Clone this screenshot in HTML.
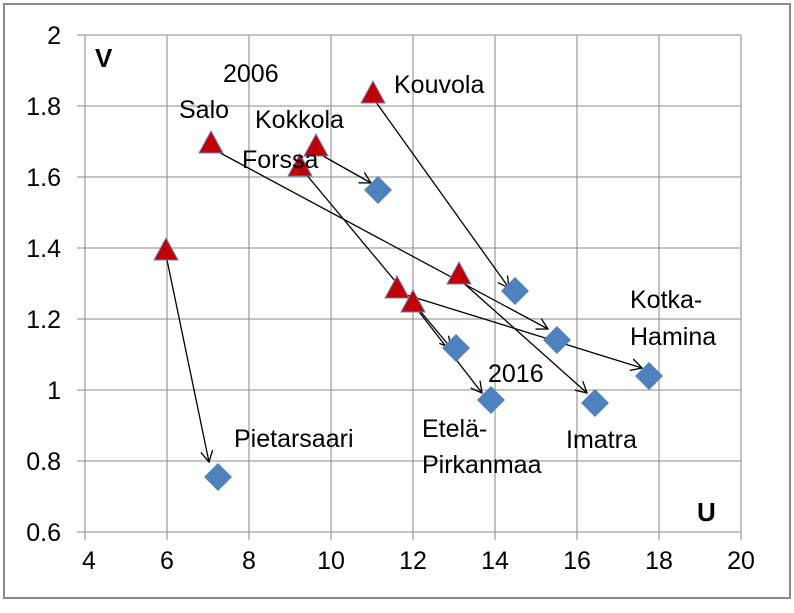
<!DOCTYPE html>
<html><head><meta charset="utf-8"><style>
body{margin:0;background:#fff;}
svg text{font-family:"Liberation Sans",sans-serif;fill:#000;}
</style></head><body>
<svg width="794" height="608" viewBox="0 0 794 608" xmlns="http://www.w3.org/2000/svg">
<defs><marker id="a" markerWidth="14" markerHeight="14" refX="12" refY="7" orient="auto" markerUnits="userSpaceOnUse"><path d="M1,1 L12,7 L1,13" fill="none" stroke="#000" stroke-width="1.3"/></marker>
<g id="t"><path d="M0,-13 L12,9 L-12,9 Z" fill="#c00000" stroke="#6a7fc0" stroke-width="1"/></g>
<g id="d"><path d="M0,-14 L14,0 L0,14 L-14,0 Z" fill="#4f81bd"/></g></defs>
<rect x="4" y="4" width="786" height="594" fill="#fff" stroke="#8a8a8a" stroke-width="2"/>
<g stroke="#a0a0a0" stroke-width="1.3">
<line x1="77" y1="35" x2="741" y2="35"/><line x1="77" y1="106" x2="741" y2="106"/><line x1="77" y1="177" x2="741" y2="177"/><line x1="77" y1="248" x2="741" y2="248"/><line x1="77" y1="319" x2="741" y2="319"/><line x1="77" y1="390" x2="741" y2="390"/><line x1="77" y1="461" x2="741" y2="461"/><line x1="77" y1="532" x2="741" y2="532"/>
<line x1="85" y1="35" x2="85" y2="540"/><line x1="167" y1="35" x2="167" y2="540"/><line x1="249" y1="35" x2="249" y2="540"/><line x1="331" y1="35" x2="331" y2="540"/><line x1="413" y1="35" x2="413" y2="540"/><line x1="495" y1="35" x2="495" y2="540"/><line x1="577" y1="35" x2="577" y2="540"/><line x1="659" y1="35" x2="659" y2="540"/><line x1="741" y1="35" x2="741" y2="540"/>
</g>
<g font-size="25" text-anchor="end">
<text x="61" y="44">2</text><text x="61" y="115">1.8</text><text x="61" y="186">1.6</text><text x="61" y="257">1.4</text><text x="61" y="328">1.2</text><text x="61" y="399">1</text><text x="61" y="470">0.8</text><text x="61" y="541">0.6</text></g>
<g font-size="25" text-anchor="middle">
<text x="89" y="569">4</text><text x="167" y="569">6</text><text x="249" y="569">8</text><text x="331" y="569">10</text><text x="413" y="569">12</text><text x="495" y="569">14</text><text x="577" y="569">16</text><text x="659" y="569">18</text><text x="741" y="569">20</text></g>
<text x="95" y="67" font-size="26" font-weight="bold">V</text>
<text x="697" y="521" font-size="26" font-weight="bold">U</text>
<g stroke="#000" stroke-width="1.3" marker-end="url(#a)">
<line x1="166" y1="255" x2="209" y2="462"/>
<line x1="211" y1="148" x2="548" y2="329"/>
<line x1="373" y1="98" x2="509" y2="288"/>
<line x1="316" y1="152" x2="371" y2="183"/>
<line x1="300" y1="167" x2="451" y2="348"/>
<line x1="397" y1="292" x2="642" y2="368"/>
<line x1="413" y1="304" x2="482" y2="393"/>
<line x1="459" y1="279" x2="587" y2="393"/>
</g>
<use href="#t" x="166" y="251"/><use href="#t" x="211" y="144"/><use href="#t" x="300" y="167"/><use href="#t" x="316" y="147"/><use href="#t" x="373" y="94"/><use href="#t" x="397" y="289"/><use href="#t" x="413" y="303"/><use href="#t" x="459" y="275"/>
<use href="#d" x="218" y="477"/><use href="#d" x="378" y="190"/><use href="#d" x="515" y="291"/><use href="#d" x="557" y="340"/><use href="#d" x="649" y="376"/><use href="#d" x="456" y="348"/><use href="#d" x="491" y="400"/><use href="#d" x="595" y="403"/>
<g font-size="25">
<text x="223" y="82">2006</text><text x="179" y="118">Salo</text><text x="255" y="128">Kokkola</text><text x="242" y="168">Forssa</text><text x="394" y="93">Kouvola</text>
<text x="488" y="382">2016</text><text x="630" y="308">Kotka-</text><text x="630" y="345">Hamina</text>
<text x="234" y="447">Pietarsaari</text><text x="422" y="437">Etelä-</text><text x="422" y="473">Pirkanmaa</text><text x="566" y="448">Imatra</text></g>
</svg>
</body></html>
